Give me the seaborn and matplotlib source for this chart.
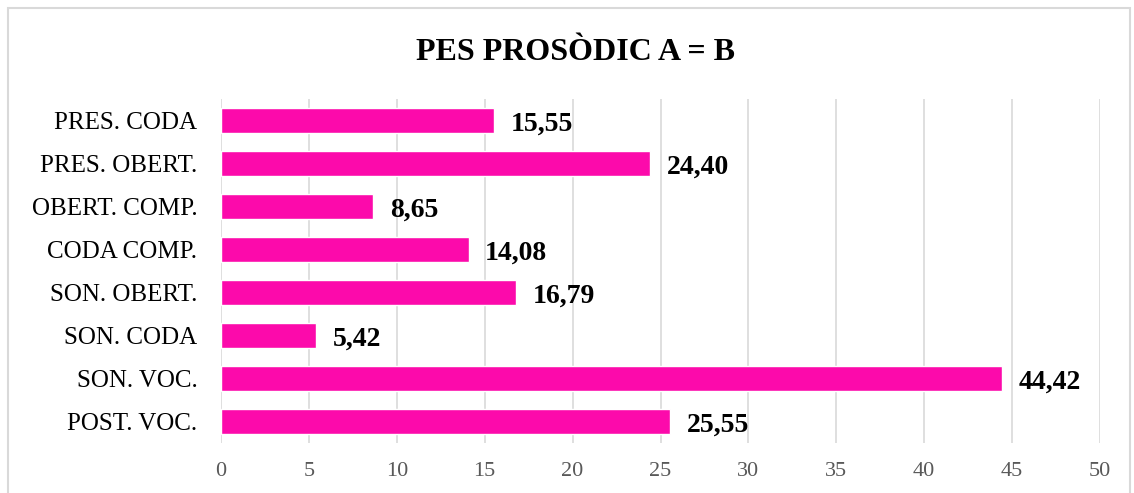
import matplotlib
matplotlib.use("Agg")
import matplotlib.pyplot as plt
import seaborn as sns
import pandas as pd
from matplotlib.patches import Rectangle

categories = ["PRES. CODA", "PRES. OBERT.", "OBERT. COMP.", "CODA COMP.",
              "SON. OBERT.", "SON. CODA", "SON. VOC.", "POST. VOC."]
values = [15.55, 24.40, 8.65, 14.08, 16.79, 5.42, 44.42, 25.55]
xticks = [0, 5, 10, 15, 20, 25, 30, 35, 40, 45, 50]
title = "PES PROSÒDIC A = B"

df = pd.DataFrame({"cat": categories, "val": values})

sns.set_theme(style="white")
plt.rcParams["font.family"] = ["Liberation Serif", "DejaVu Serif"]
plt.rcParams["text.color"] = "#000000"

fig = plt.figure(figsize=(11.34, 4.93), dpi=100)
fig.patches.append(Rectangle((8/1134, -0.05), (1130-8)/1134, 1.05 - 8/493,
                             transform=fig.transFigure, fill=False,
                             edgecolor="#D9D9D9", linewidth=1.5))
ax = fig.add_axes([221/1134, 1-443/493, (1100-221)/1134, (443-99)/493])

sns.barplot(data=df, x="val", y="cat", orient="h", color="#FC0AAB",
            saturation=1, width=0.56, ax=ax)

ax.set_xlim(0, 50)
ax.set_xticks(xticks)
ax.set_xticklabels([str(t) for t in xticks], fontsize=16, color="#595959")
ax.tick_params(axis="y", labelsize=18, colors="#000000", length=0, pad=17)
ax.tick_params(axis="x", length=0, pad=14)
ax.set_xlabel("")
ax.set_ylabel("")
ax.grid(axis="x", color="#D9D9D9", linewidth=1.2)
ax.set_axisbelow(True)
for s in ax.spines.values():
    s.set_visible(False)

for i, v in enumerate(values):
    ax.text(v + 0.95, i + 0.08, f"{v:.2f}".replace(".", ","), va="center", ha="left",
            fontsize=20, fontweight="bold", color="#000000")

fig.text(575/1134, 1 - 52/493, title, color="#000000",
         ha="center", va="center", fontsize=23, fontweight="bold")

fig.savefig("out.png", dpi=100)
